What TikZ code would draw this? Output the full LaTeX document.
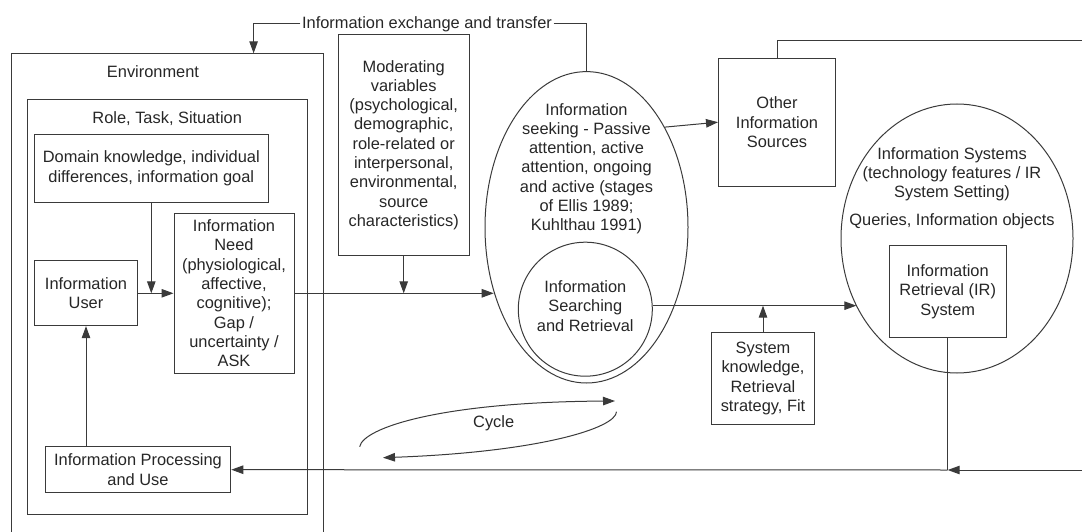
\documentclass[tikz,border=0pt]{standalone}
\usepackage{fontspec}
\setmainfont{Liberation Sans}
\usetikzlibrary{arrows.meta,shapes.geometric}
\definecolor{linecol}{HTML}{3A3A3A}
\definecolor{txtcol}{HTML}{262626}
\begin{document}
\begin{tikzpicture}[x=1pt,y=-1pt,
  every node/.style={font=\fontsize{16.4}{19.3}\selectfont, text=txtcol, inner sep=0pt, align=center},
  box/.style={draw=linecol, line width=1pt, rectangle},
  oval/.style={draw=linecol, line width=1pt, ellipse},
  conn/.style={draw=linecol, line width=1pt},
  arr/.style={conn, -{Triangle[length=12pt,width=8.5pt]}}]
\useasboundingbox (0,0) rectangle (1082,532);
\clip (0,0) rectangle (1082,532);

% ---- environment frame and its contents ----
\node[box, minimum width=311.6pt, minimum height=491.7pt] (env) at (167.5,299.15) {};
\node (envlbl) at (153,71.7) {Environment};
\node[box, minimum width=279.3pt, minimum height=415pt] (rts) at (167.35,306.8) {};
\node (rtslbl) at (167.2,118.3) {Role, Task, Situation};
\node[box, minimum width=234pt, minimum height=68.3pt] (dom) at (151.3,168.2)
  {Domain knowledge, individual\\differences, information goal};
\node[box, minimum width=103.4pt, minimum height=64.7pt] (user) at (86,293.3)
  {Information\\User};
\node[box, minimum width=120pt, minimum height=160pt] (need) at (234,293.3)
  {Information\\Need\\(physiological,\\affective,\\cognitive);\\Gap /\\uncertainty /\\ASK};
\node[box, minimum width=185.6pt, minimum height=46pt] (proc) at (138,469.7)
  {Information Processing\\and Use};

% ---- moderating variables ----
\node[box, minimum width=130.7pt, minimum height=220pt] (mod) at (403.7,145)
  {Moderating\\variables\\(psychological,\\demographic,\\role-related or\\interpersonal,\\environmental,\\source\\characteristics)};

% ---- information seeking ----
\node[oval, minimum width=203pt, minimum height=311.4pt] (seek) at (586.5,227.3) {};
\node (seektxt) at (586.5,168.7)
  {Information\\seeking - Passive\\attention, active\\attention, ongoing\\and active (stages\\of Ellis 1989;\\Kuhlthau 1991)};
\node[draw=linecol, line width=1pt, circle, minimum size=134pt] (search) at (585.3,309.2) {};
\node (searchtxt) at (585.3,306) {Information\\Searching\\and Retrieval};

% ---- other sources, system knowledge ----
\node[box, minimum width=117pt, minimum height=127.7pt] (other) at (777,122.2)
  {Other\\Information\\Sources};
\node[box, minimum width=102.6pt, minimum height=91.6pt] (sysk) at (763,378.5)
  {System\\knowledge,\\Retrieval\\strategy, Fit};

% ---- information systems ----
\node[oval, minimum width=232pt, minimum height=269pt] (is) at (957,238.5) {};
\node (istxt) at (952,174.3) {Information Systems\\(technology features / IR\\System Setting)};
\node (qtxt) at (952,221.7) {Queries, Information objects};
\node[box, minimum width=116.7pt, minimum height=91.6pt] (ir) at (947.7,291.5)
  {Information\\Retrieval (IR)\\System};

% ---- information exchange loop across the top ----
\node[inner sep=1.5pt] (xfer) at (427,24) {Information exchange and transfer};
\coordinate (envin) at (253.6,53.3);
\draw[arr] (xfer.west) -| (envin);
\draw[conn] (xfer.east) -| (seek.north);

% ---- connectors inside the environment ----
\draw[arr] (dom.south) -- (dom.south |- user.east);
\draw[arr] (user.east) -- (need.west);
\draw[arr] (proc.north -| user.south) -- (user.south);

% ---- need to seeking, moderated ----
\draw[arr] (need.east) -- (need.east -| seek.215);
\draw[arr] (mod.south) -- (mod.south |- need.east);

% ---- seeking to other sources ----
\draw[arr] (seek.52) -- (other.west);
\coordinate (rtop) at (1090,41);
\draw[conn] (other.north) |- (rtop);

% ---- searching to information systems ----
\draw[arr] (search.3) -- (search.3 -| is.214);
\draw[arr] (sysk.north) -- (sysk.north |- search.3);

% ---- return path to processing and use ----
\coordinate (rbot) at (1090,470);
\coordinate (junc) at (ir.south |- 0,470);
\draw[conn] (ir.south) -- (junc);
\draw[arr] (rbot) -- (junc);
\draw[arr] (junc) -- (proc.east);

% ---- cycle ----
\node (cyc) at (493.7,423.3) {Cycle};
\coordinate (cyA) at (359.7,446.7);
\coordinate (cyB) at (615,401);
\coordinate (cyC) at (616.5,411.7);
\coordinate (cyD) at (383,457.7);
\draw[arr] (cyA) .. controls (363,428) and (440,402) .. (cyB);
\draw[arr] (cyC) .. controls (616,428) and (540,452) .. (cyD);
\end{tikzpicture}
\end{document}
